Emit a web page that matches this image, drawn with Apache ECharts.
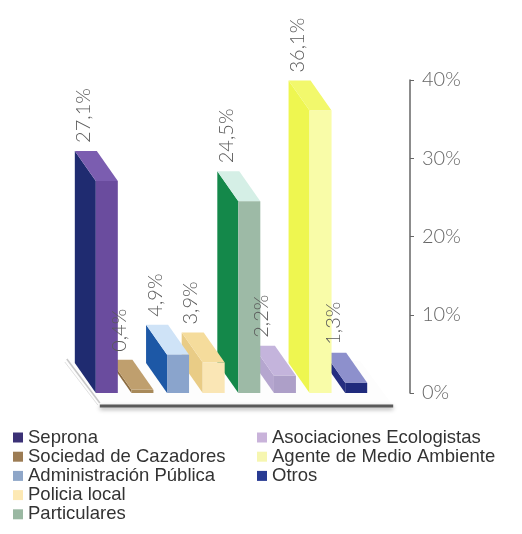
<!DOCTYPE html>
<html>
<head>
<meta charset="utf-8">
<script src="https://cdn.jsdelivr.net/npm/echarts@6/dist/echarts.min.js"></script>
<style>
  html, body { margin: 0; padding: 0; background: #fff; }
  #chart { width: 522px; height: 534px; }
</style>
</head>
<body>
<div id="chart"></div>
<script>
// categorias y porcentajes
const categories = [
  'Seprona',
  'Sociedad de Cazadores',
  'Administración Pública',
  'Policia local',
  'Particulares',
  'Asociaciones Ecologistas',
  'Agente de Medio Ambiente',
  'Otros'
];
const values = [27.1, 0.4, 4.9, 3.9, 24.5, 2.2, 36.1, 1.3];
const valueLabels = ['27,1%', '0,4%', '4,9%', '3,9%', '24,5%', '2,2%', '36,1%', '1,3%'];
const yTicks = [0, 10, 20, 30, 40];

// colores: leyenda, cara frontal, cara superior, lateral
const legendColors = ['#3b3176', '#9c7c54', '#8ea6c8', '#fde9b4', '#9ab8a2', '#c9b3da', '#f6f6b0', '#283a92'];
const frontColors = ['#6a4c9e', '#a88a5a', '#8aa4cc', '#fae6b5', '#9dbaa6', '#ad9fc8', '#f9fca8', '#1f2a7c'];
const topColors = ['#7b5db0', '#bf9f6e', '#cfe3f7', '#f5dc9c', '#d5efe6', '#c4b4dc', '#f2f86c', '#8d90cc'];
const sideColors = ['#1f2b70', '#8c6c40', '#1d58a6', '#e9cc86', '#14884a', '#b5a6cf', '#eef650', '#252e80'];

const BAR_W = 22;
const DX = -21;
const DY = -30;

const chart = echarts.init(document.getElementById('chart'));

function barRender(i) {
  return function (params, api) {
    const top = api.coord([api.value(0), api.value(1)]);
    const base = api.coord([api.value(0), 0]);
    const xl = top[0] - BAR_W / 2;
    const xr = top[0] + BAR_W / 2;
    const yt = top[1];
    const yb = base[1];
    return {
      type: 'group',
      children: [
        {
          type: 'polygon',
          shape: { points: [[xl + DX, yt + DY], [xl, yt], [xl, yb], [xl + DX, yb + DY]] },
          style: { fill: sideColors[i] }
        },
        {
          type: 'polygon',
          shape: { points: [[xl + DX, yt + DY], [xr + DX, yt + DY], [xr, yt], [xl, yt]] },
          style: { fill: topColors[i] }
        },
        {
          type: 'polygon',
          shape: { points: [[xl, yt], [xr, yt], [xr, yb], [xl, yb]] },
          style: { fill: frontColors[i] }
        }
      ]
    };
  };
}

// etiquetas giradas encima de cada barra
function labelRender(params, api) {
  const top = api.coord([api.value(0), api.value(1)]);
  return {
    type: 'text',
    x: top[0] - 23,
    y: top[1] + DY - 8,
    rotation: Math.PI / 2,
    style: {
      text: valueLabels[params.dataIndex],
      fill: '#5a5a5a',
      font: '300 20px Lato, "DejaVu Sans", sans-serif',
      textAlign: 'left',
      textVerticalAlign: 'middle'
    }
  };
}

function floorRender(params, api) {
  const a = api.coord([0, 0]);
  const b = api.coord([categories.length - 1, 0]);
  const fl = [a[0] - 9, a[1] + 12];
  const fr = [b[0] + 37, b[1] + 13];
  const bl = [fl[0] - 33, fl[1] - 45];
  const br = [fr[0] - 33, fr[1] - 45];
  return {
    type: 'group',
    children: [
      {
        type: 'polygon',
        shape: { points: [bl, fl, fr, br] },
        style: { fill: '#fdfdfd' }
      },
      {
        type: 'polyline',
        shape: { points: [[bl[0] + 2, bl[1] - 1], [fl[0] + 2, fl[1] - 2]] },
        style: { stroke: '#c8c8c8', lineWidth: 1.5, fill: null }
      },
      {
        type: 'polyline',
        shape: { points: [[bl[0], bl[1] + 2], [fl[0], fl[1]]] },
        style: { stroke: '#e0e0e0', lineWidth: 1, fill: null }
      },
      {
        type: 'polyline',
        shape: { points: [[fl[0] + 2, fl[1] + 1], [fr[0], fr[1]]] },
        style: {
          stroke: '#5a5a5a',
          lineWidth: 3,
          fill: null,
          shadowBlur: 4,
          shadowColor: 'rgba(0,0,0,0.35)',
          shadowOffsetY: 2
        }
      }
    ]
  };
}

const series = [
  {
    type: 'custom',
    name: 'floor',
    z: 1,
    silent: true,
    renderItem: floorRender,
    data: [[0, 0]],
    encode: { x: 0, y: 1 }
  }
];
categories.forEach((name, i) => {
  series.push({
    type: 'custom',
    name: name,
    z: 2 + (categories.length - i),
    itemStyle: { color: legendColors[i] },
    renderItem: barRender(i),
    data: [[i, values[i]]],
    encode: { x: 0, y: 1 }
  });
});
series.push({
  type: 'custom',
  name: 'labels',
  z: 30,
  silent: true,
  renderItem: labelRender,
  data: values.map((v, i) => [i, v]),
  encode: { x: 0, y: 1 }
});

const legendText = {
  color: '#333',
  fontSize: 18.5,
  fontFamily: '"Liberation Sans", Arial, sans-serif'
};

chart.setOption({
  animation: false,
  grid: { left: 89, right: 148, top: 80, bottom: 141 },
  legend: [
    {
      data: categories.slice(0, 5),
      orient: 'vertical',
      left: 13,
      top: 428,
      height: 200,
      icon: 'rect',
      itemWidth: 10,
      itemHeight: 10,
      itemGap: 0.2,
      padding: 0,
      textStyle: legendText
    },
    {
      data: categories.slice(5),
      orient: 'vertical',
      left: 257,
      top: 428,
      height: 200,
      icon: 'rect',
      itemWidth: 10,
      itemHeight: 10,
      itemGap: 0.2,
      padding: 0,
      textStyle: legendText
    }
  ],
  xAxis: {
    type: 'category',
    data: categories,
    show: false
  },
  yAxis: {
    type: 'value',
    position: 'right',
    offset: 36,
    min: yTicks[0],
    max: yTicks[yTicks.length - 1],
    interval: 10,
    splitLine: { show: false },
    axisLine: { show: true, lineStyle: { color: '#666', width: 1.5 } },
    axisTick: { show: true, length: 4, lineStyle: { color: '#666' } },
    axisLabel: {
      formatter: '{value}%',
      color: '#666',
      fontSize: 20,
      fontFamily: 'Lato, sans-serif',
      fontWeight: 300,
      margin: 12
    }
  },
  series: series
});
</script>
</body>
</html>
